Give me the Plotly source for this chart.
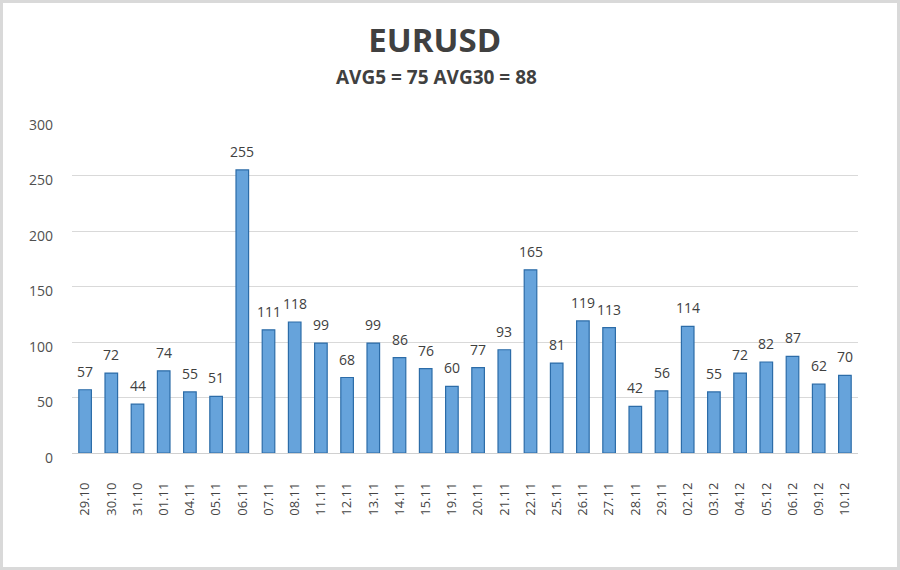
import plotly.graph_objects as go

categories = ["29.10", "30.10", "31.10", "01.11", "04.11", "05.11", "06.11", "07.11",
              "08.11", "11.11", "12.11", "13.11", "14.11", "15.11", "19.11", "20.11",
              "21.11", "22.11", "25.11", "26.11", "27.11", "28.11", "29.11", "02.12",
              "03.12", "04.12", "05.12", "06.12", "09.12", "10.12"]
values = [57, 72, 44, 74, 55, 51, 255, 111, 118, 99, 68, 99, 86, 76, 60, 77,
          93, 165, 81, 119, 113, 42, 56, 114, 55, 72, 82, 87, 62, 70]
y_ticks = [0, 50, 100, 150, 200, 250, 300]
title_text = "EURUSD"
subtitle_text = "AVG5 = 75 AVG30 = 88"

W, H = 900, 570
ML, MR, MT, MB = 72, 42, 120, 117
pw = W - ML - MR
ph = H - MT - MB

fig = go.Figure(go.Bar(
    x=categories, y=values,
    width=0.48,
    marker=dict(color="#66A3DB", line=dict(color="#2C6CA8", width=1.2)),
))

label_annotations = [
    dict(x=i, y=v, xref="x", yref="y", text=str(v), showarrow=False,
         yanchor="bottom", xanchor="center", yshift=7,
         font=dict(family="Open Sans", size=14, color="#404040"))
    for i, v in enumerate(values)
]

fig.update_layout(
    width=W, height=H,
    margin=dict(l=ML, r=MR, t=MT, b=MB),
    paper_bgcolor="white", plot_bgcolor="white",
    showlegend=False,
    title=dict(text="<b>%s</b>" % title_text, x=0.483, xanchor="center",
               y=1 - 40 / H, yanchor="middle",
               font=dict(family="Open Sans", size=33, color="#404040")),
    annotations=[dict(text="<b>%s</b>" % subtitle_text, xref="paper", yref="paper",
                      x=(436 - ML) / pw, y=1 + (MT - 77) / ph, xanchor="center",
                      yanchor="middle", showarrow=False,
                      font=dict(family="Open Sans", size=19, color="#404040"))]
                + label_annotations,
    xaxis=dict(type="category", range=[-0.5, len(categories) - 0.5],
               tickangle=-90, showgrid=False, showline=False, ticks="",
               ticklabelstandoff=26,
               tickfont=dict(family="Open Sans", size=13, color="#454545")),
    yaxis=dict(range=[0, 300], tickvals=y_ticks, showgrid=True,
               gridcolor="#D9D9D9", gridwidth=1, zeroline=True,
               zerolinecolor="#D0D0D0", zerolinewidth=1, showline=False,
               ticks="", ticklabelstandoff=18, ticklabelshift=5,
               tickfont=dict(family="Open Sans", size=14, color="#505050")),
    bargap=0.5,
    shapes=[dict(type="rect", xref="paper", yref="paper",
                 x0=(1.5 - ML) / pw, x1=(W - 1.5 - ML) / pw,
                 y0=-(MB - 1.5) / ph, y1=1 + (MT - 1.5) / ph,
                 line=dict(color="#D9D9D9", width=3), layer="below")],
)

fig.write_html("out.html")
